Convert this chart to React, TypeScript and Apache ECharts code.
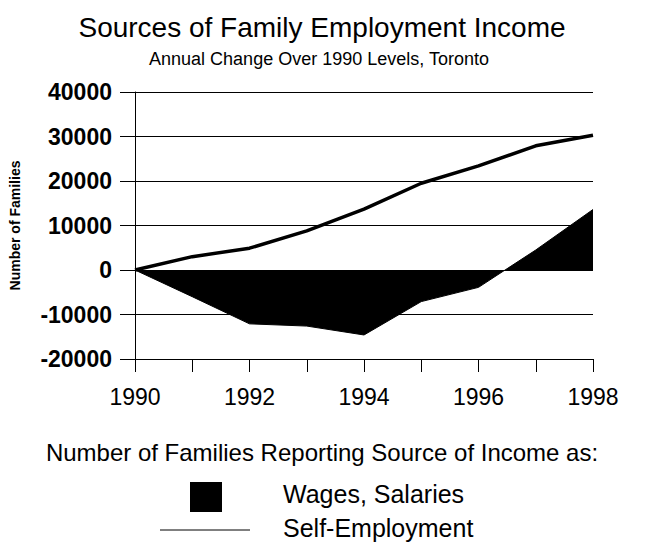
import React, { useEffect, useRef } from "react";
import * as echarts from "echarts";

const years = ["1990", "1991", "1992", "1993", "1994", "1995", "1996", "1997", "1998"];
const wagesSalaries = [0, -6000, -12100, -12600, -14600, -7100, -3900, 4500, 13600];
const selfEmployment = [0, 3000, 4900, 8800, 13700, 19500, 23400, 27900, 30300];
const yTicks = { min: -20000, max: 40000, interval: 10000 };

const FONT = "'Liberation Sans', Arial, sans-serif";

export default function App() {
  const ref = useRef<HTMLDivElement>(null);
  useEffect(() => {
    document.body.style.margin = "0";
    const chart = echarts.init(ref.current!, null, { renderer: "svg" });
    chart.setOption({
      animation: false,
      backgroundColor: "#ffffff",
      textStyle: { fontFamily: FONT },
      title: [
        {
          text: "Sources of Family Employment Income",
          left: 317,
          top: 8,
          textAlign: "center",
          textStyle: { fontSize: 28, fontWeight: "normal", color: "#000", fontFamily: FONT },
        },
        {
          text: "Annual Change Over 1990 Levels, Toronto",
          left: 314,
          top: 45,
          textAlign: "center",
          textStyle: { fontSize: 18, fontWeight: "normal", color: "#000", fontFamily: FONT },
        },
      ],
      grid: { left: 130, right: 57, top: 92, bottom: 185, containLabel: false },
      xAxis: {
        type: "category",
        data: years,
        boundaryGap: false,
        axisLine: { onZero: false, lineStyle: { color: "#000", width: 1 } },
        axisTick: { show: true, interval: 0, length: 13, lineStyle: { color: "#000" } },
        axisLabel: { interval: 1, color: "#000", fontSize: 23, margin: 26, fontFamily: FONT },
        splitLine: { show: false },
      },
      yAxis: {
        type: "value",
        min: yTicks.min,
        max: yTicks.max,
        interval: yTicks.interval,
        name: "Number of Families",
        nameLocation: "middle",
        nameGap: 113,
        nameTextStyle: { fontSize: 14, fontWeight: "bold", color: "#000", fontFamily: FONT },
        axisLine: { show: true, lineStyle: { color: "#000", width: 1 } },
        axisTick: { show: true, length: 15, lineStyle: { color: "#000" } },
        axisLabel: {
          color: "#000",
          fontSize: 23,
          fontWeight: "bold",
          margin: 23,
          fontFamily: FONT,
          formatter: (v: number) => String(v),
        },
        splitLine: { show: true, lineStyle: { color: "#000", width: 1 } },
      },
      series: [
        {
          name: "Wages, Salaries",
          type: "line",
          data: wagesSalaries,
          symbol: "none",
          lineStyle: { color: "#000", width: 1 },
          areaStyle: { color: "#000", opacity: 1 },
          z: 2,
        },
        {
          name: "Self-Employment",
          type: "line",
          data: selfEmployment,
          symbol: "none",
          lineStyle: { color: "#000", width: 3.5 },
          z: 3,
        },
      ],
      graphic: [
        {
          type: "text",
          x: 322,
          y: 452,
          style: {
            text: "Number of Families Reporting Source of Income as:",
            fontSize: 24,
            fontFamily: FONT,
            fill: "#000",
            align: "center",
            verticalAlign: "middle",
          },
        },
        { type: "rect", shape: { x: 190, y: 482, width: 32, height: 30 }, style: { fill: "#000" } },
        {
          type: "text",
          x: 283,
          y: 494,
          style: { text: "Wages, Salaries", fontSize: 25, fontFamily: FONT, fill: "#000", verticalAlign: "middle" },
        },
        { type: "line", shape: { x1: 160, y1: 530, x2: 250, y2: 530 }, style: { stroke: "#000", lineWidth: 1 } },
        {
          type: "text",
          x: 283,
          y: 528,
          style: { text: "Self-Employment", fontSize: 25, fontFamily: FONT, fill: "#000", verticalAlign: "middle" },
        },
      ],
    });
    return () => chart.dispose();
  }, []);
  return <div ref={ref} style={{ position: "absolute", left: 0, top: 0, width: 650, height: 544 }} />;
}
